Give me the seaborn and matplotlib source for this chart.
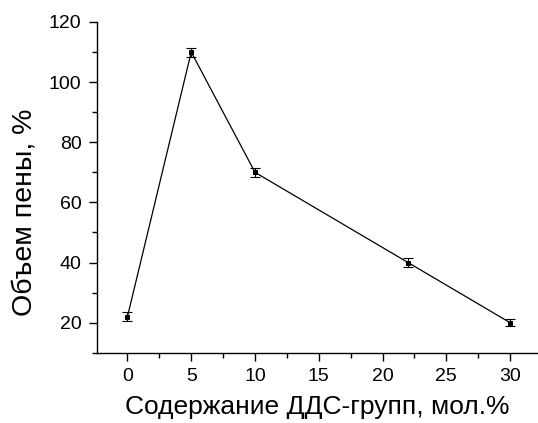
import matplotlib
matplotlib.use("Agg")
import matplotlib.pyplot as plt
import seaborn as sns
import pandas as pd
from matplotlib.ticker import MultipleLocator

x_vals = [0, 5, 10, 22, 30]
y_vals = [22, 110, 70, 40, 20]
y_err = [1.5, 1.5, 1.5, 1.5, 1.2]

sns.set_style("white")
plt.rcParams['font.family'] = ['Liberation Sans', 'DejaVu Sans']
plt.rcParams['text.color'] = 'black'
plt.rcParams['axes.labelcolor'] = 'black'
plt.rcParams['xtick.color'] = 'black'
plt.rcParams['ytick.color'] = 'black'

df = pd.DataFrame({"x": x_vals, "y": y_vals, "err": y_err})

fig = plt.figure(figsize=(5.38, 4.23), dpi=100)
ax = fig.add_axes([0.180, 0.166, 0.818, 0.782])

sns.lineplot(data=df, x="x", y="y", ax=ax, color="black", linewidth=0.9,
             marker="s", markersize=3.5, markeredgecolor="black")
ax.errorbar(df["x"], df["y"], yerr=df["err"], fmt="none", ecolor="black",
            elinewidth=0.8, capsize=3.5, capthick=0.8)

ax.set_xlim(-2.4, 32.1)
ax.set_ylim(10, 120)
ax.xaxis.set_major_locator(MultipleLocator(5))
ax.xaxis.set_minor_locator(MultipleLocator(2.5))
ax.yaxis.set_major_locator(MultipleLocator(20))
ax.yaxis.set_minor_locator(MultipleLocator(10))
ax.set_yticks([20, 40, 60, 80, 100, 120])

for s in ["top", "right"]:
    ax.spines[s].set_visible(False)
for s in ["left", "bottom"]:
    ax.spines[s].set_color("black")
    ax.spines[s].set_linewidth(1.0)

ax.tick_params(axis="both", which="major", direction="out", length=6, width=1,
               labelsize=14, labelcolor="black", color="black",
               left=True, bottom=True, pad=5)
ax.tick_params(axis="both", which="minor", direction="out", length=3.5, width=1,
               color="black", left=True, bottom=True)

ax.set_xlabel("Содержание ДДС-групп, мол.%", fontsize=19, labelpad=7,
              color="black")
ax.set_ylabel("Объем пены, %", fontsize=20.5, color="black")
ax.yaxis.set_label_coords(-0.135, 0.424)

fig.savefig("out.png", dpi=100)
